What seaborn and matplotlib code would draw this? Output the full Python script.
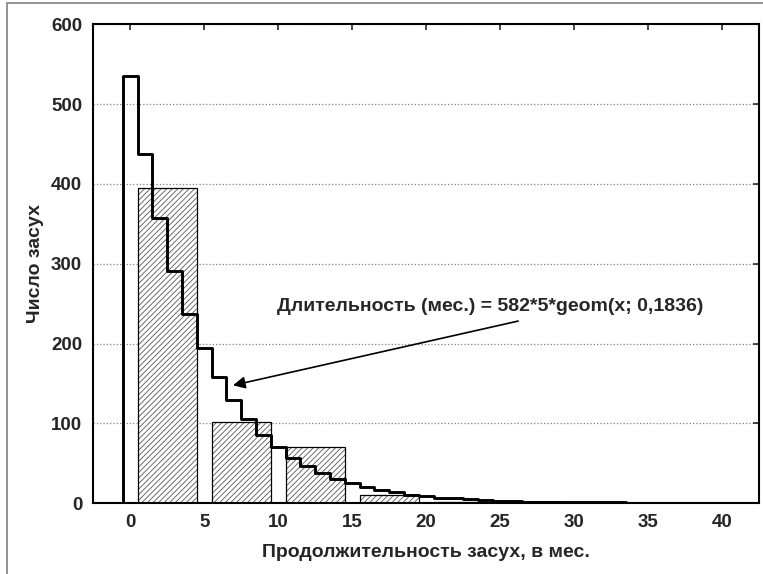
import numpy as np
import pandas as pd
import seaborn as sns
import matplotlib.pyplot as plt
from matplotlib.patches import Rectangle

# histogram: 5-month bins, counts of droughts
bin_edges = [0, 5, 10, 15, 20, 25, 30, 35, 40]
bin_centers = [2.5, 7.5, 12.5, 17.5, 22.5, 27.5, 32.5, 37.5]
bin_counts = [395, 102, 71, 10, 2, 1, 0, 0]

# fitted geometric curve
fit_x = [-1, 0, 1, 2, 3, 4, 5, 6, 7, 8, 9, 10, 11, 12, 13, 14, 15, 16, 17,
         18, 19, 20, 21, 22, 23, 24, 25, 26, 27, 28, 29, 30, 31, 32, 33, 34]
fit_y = [0, 535, 437, 357, 291, 237, 194, 158, 129, 105, 86, 70, 57, 47, 38,
         31, 25, 21, 17, 14, 11, 9, 7, 6, 5, 4, 3, 3, 2, 2, 1, 1, 1, 1, 1, 0]

x_ticks = [0, 5, 10, 15, 20, 25, 30, 35, 40]
y_ticks = [0, 100, 200, 300, 400, 500, 600]

sns.set_style("white")
plt.rcParams['font.family'] = ['Liberation Sans', 'DejaVu Sans']
plt.rcParams['hatch.linewidth'] = 0.6

fig = plt.figure(figsize=(7.63, 5.74), dpi=100)
ax = fig.add_axes([0.1223, 0.1232, 0.8725, 0.8345])

hist_df = pd.DataFrame({'x': bin_centers, 'n': bin_counts})
# hatch in grey, then black outlines on top
sns.histplot(data=hist_df, x='x', weights='n', bins=bin_edges,
             shrink=0.8, ax=ax, facecolor='white', edgecolor='#555555',
             linewidth=0, hatch='//////', alpha=1)
sns.histplot(data=hist_df, x='x', weights='n', bins=bin_edges,
             shrink=0.8, ax=ax, fill=False, color='black', linewidth=0.9)

fit_df = pd.DataFrame({'x': fit_x, 'y': fit_y})
sns.lineplot(data=fit_df, x='x', y='y', ax=ax, color='black', linewidth=2.1,
             drawstyle='steps-mid', sort=False, estimator=None)

ax.set_xlim(-2.5, 42.5)
ax.set_ylim(0, 600)
ax.set_xticks(x_ticks)
ax.set_yticks(y_ticks)
ax.tick_params(direction='in', length=4, width=1.2, top=True, right=True,
               labelsize=13.5, pad=8)
for lab in ax.get_xticklabels() + ax.get_yticklabels():
    lab.set_fontweight('bold')
ax.grid(axis='y', linestyle=':', color='#808080', linewidth=0.9)
ax.set_axisbelow(True)
for sp in ax.spines.values():
    sp.set_linewidth(1.5)
    sp.set_color('black')

ax.set_xlabel('Продолжительность засух, в мес.', fontsize=14,
              fontweight='bold', labelpad=9)
ax.set_ylabel('Число засух', fontsize=14, fontweight='bold', labelpad=5)

ax.annotate('Длительность (мес.) = 582*5*geom(x; 0,1836)',
            xy=(6.76, 147), xytext=(9.9, 247), fontsize=14, fontweight='bold',
            va='center', ha='left')
ax.annotate('', xy=(6.76, 147), xytext=(26.4, 229),
            arrowprops=dict(arrowstyle='-|>', color='black', lw=1.2,
                            mutation_scale=18))

# outer frame of the original picture
fig.add_artist(Rectangle((0.009, -0.1), 1.2, 0.1 + 0.9948,
                         transform=fig.transFigure, fill=False,
                         edgecolor='#808080', linewidth=1.2))

fig.savefig('out.png', dpi=100)
